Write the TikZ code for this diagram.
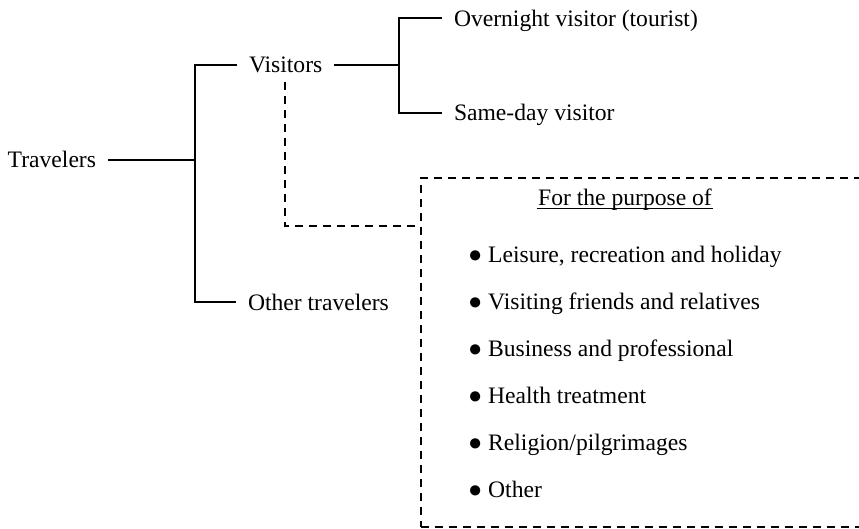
\documentclass[tikz,border=0pt]{standalone}
\usepackage{fontspec}
\setmainfont{Liberation Serif}
\begin{document}
\begin{tikzpicture}[x=1pt,y=-1pt,
  font=\fontsize{23.6}{28}\selectfont,
  line width=2pt,
  lbl/.style={inner xsep=11pt, inner ysep=0pt, text height=16pt, text depth=0pt},
  dashline/.style={line width=1.8pt, dash pattern=on 8pt off 6pt},
  itembox/.style={anchor=base west, inner sep=0pt}]
\useasboundingbox (0,0) rectangle (859,528);
\clip (0,0) rectangle (859,528);

% labels
\node[lbl, anchor=east] (trav) at (108,159.5) {Travelers};
\node[lbl, anchor=west] (vis) at (237,64.5) {Visitors};
\node[lbl, anchor=west] (oth) at (236,302) {Other travelers};
\node[lbl, anchor=west] (over) at (442,18) {Overnight visitor (tourist)};
\node[lbl, anchor=west] (same) at (442,112.5) {Same-day visitor};

% junctions
\coordinate (ja) at (195,159.5);
\coordinate (jt) at (195,64.5);
\coordinate (jb) at (195,302);
\coordinate (kb) at (399,64.5);
\coordinate (kt) at (399,18);
\coordinate (kd) at (399,112.5);

\draw (trav.east) -- (ja);
\draw (vis.west) -- (jt) -- (jb) -- (oth.west);
\draw (vis.east) -- (kb);
\draw (over.west) -- (kt) -- (kd) -- (same.west);

% dashed box
\node[draw, dashline, anchor=north west, minimum width=480pt, minimum height=349pt, inner sep=0pt] (box) at (420,177) {};
\coordinate (d0) at (285,82);
\coordinate (d1) at (285,226);
\draw[dashline] (d0) -- (d1) -- (box.west |- d1);

% box content
\node[anchor=base, inner sep=0pt] (purp) at (625,205) {For the purpose of};
\draw[line width=1.5pt] ([yshift=-3.5pt]purp.base west) -- ([yshift=-3.5pt]purp.base east);
\node[itembox] (i1) at (467,262.3) {● Leisure, recreation and holiday};
\node[itembox] (i2) at (467,309.3) {● Visiting friends and relatives};
\node[itembox] (i3) at (467,356.3) {● Business and professional};
\node[itembox] (i4) at (467,403.3) {● Health treatment};
\node[itembox] (i5) at (467,450.3) {● Religion/pilgrimages};
\node[itembox] (i6) at (467,497.3) {● Other};
\end{tikzpicture}
\end{document}
